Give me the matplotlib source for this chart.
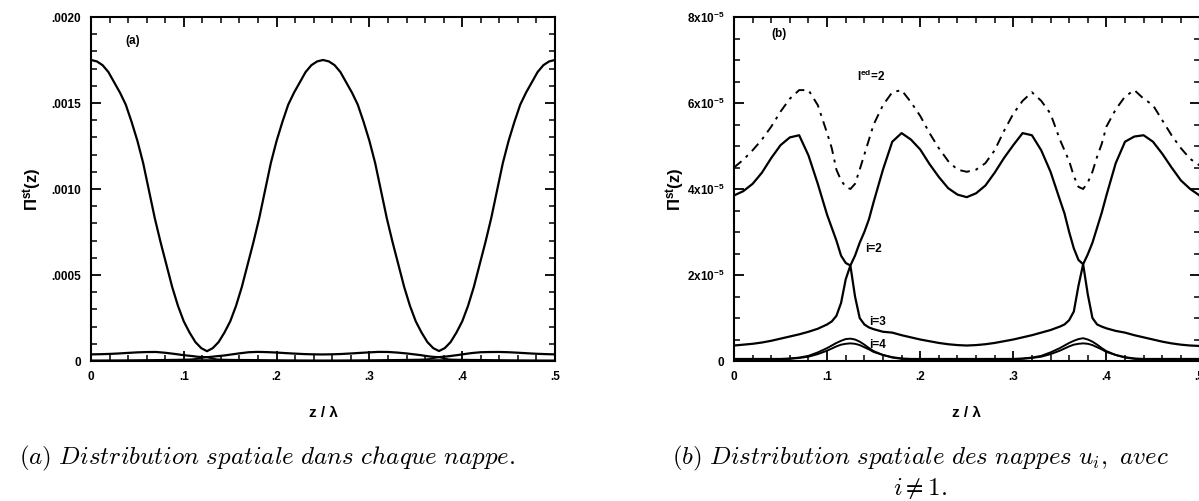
import matplotlib
matplotlib.use("Agg")
import matplotlib.pyplot as plt
from matplotlib.ticker import MultipleLocator

plt.rcParams['font.family'] = ['Liberation Sans', 'DejaVu Sans']
plt.rcParams['mathtext.fontset'] = 'custom'
plt.rcParams['mathtext.rm'] = 'Liberation Sans:bold'
plt.rcParams['mathtext.it'] = 'Liberation Sans:italic:bold'
plt.rcParams['mathtext.bf'] = 'Liberation Sans:bold'

# ---------------- data: panel (a), nappe i=1 ----------------
z_a = [i * 0.00625 for i in range(81)]
pi_1 = [0.00175, 0.001742, 0.00172, 0.00168, 0.00162, 0.00156, 0.00149, 0.00139, 0.00128, 0.00115,
        0.00099, 0.00083, 0.00069, 0.00056, 0.00043, 0.00032, 0.00023, 0.000165, 0.00011, 0.000075,
        0.000057,
        0.000075, 0.00011, 0.000165, 0.00023, 0.00032, 0.00043, 0.00056, 0.00069, 0.00083, 0.00099,
        0.00115, 0.00128, 0.00139, 0.00149, 0.00156, 0.00162, 0.00168, 0.00172, 0.001742, 0.00175,
        0.001742, 0.00172, 0.00168, 0.00162, 0.00156, 0.00149, 0.00139, 0.00128, 0.00115, 0.00099,
        0.00083, 0.00069, 0.00056, 0.00043, 0.00032, 0.00023, 0.000165, 0.00011, 0.000075, 0.000058,
        0.000075, 0.00011, 0.000165, 0.00023, 0.00032, 0.00043, 0.00056, 0.00069, 0.00083, 0.00099,
        0.00115, 0.00128, 0.00139, 0.00149, 0.00156, 0.00162, 0.00168, 0.00172, 0.001742, 0.00175]

# ---------------- data: panel (b), nappes i>=2 (units of 1e-5) ----------------
z_b = [0.0, 0.01, 0.02, 0.03, 0.04, 0.05, 0.06, 0.07, 0.08, 0.09, 0.10,
       0.105, 0.11, 0.115, 0.12, 0.125, 0.13, 0.135, 0.14, 0.145,
       0.15, 0.16, 0.17, 0.18, 0.19, 0.20, 0.21, 0.22, 0.23, 0.24, 0.25,
       0.26, 0.27, 0.28, 0.29, 0.30, 0.31, 0.32, 0.33, 0.34, 0.35,
       0.355, 0.36, 0.365, 0.37, 0.375, 0.38, 0.385, 0.39, 0.395,
       0.40, 0.41, 0.42, 0.43, 0.44, 0.45, 0.46, 0.47, 0.48, 0.49, 0.50]

pi_ed = [4.50, 4.68, 4.90, 5.15, 5.45, 5.80, 6.10, 6.30, 6.30, 5.95, 5.30,
         4.95, 4.45, 4.20, 4.05, 4.00, 4.12, 4.45, 4.80, 5.15,
         5.50, 5.95, 6.25, 6.30, 6.02, 5.70, 5.30, 4.95, 4.65, 4.45, 4.40,
         4.45, 4.60, 4.90, 5.35, 5.75, 6.05, 6.25, 6.05, 5.75, 5.15,
         4.90, 4.65, 4.30, 4.05, 4.00, 4.15, 4.40, 4.75, 5.05,
         5.45, 5.85, 6.15, 6.30, 6.10, 5.95, 5.60, 5.25, 4.95, 4.70, 4.55]

pi_2 = [3.85, 3.95, 4.12, 4.38, 4.72, 5.02, 5.20, 5.25, 4.78, 4.12, 3.40,
        3.10, 2.80, 2.45, 2.28, 2.22, 2.45, 2.75, 3.00, 3.30,
        3.70, 4.45, 5.10, 5.30, 5.15, 4.92, 4.58, 4.28, 4.02, 3.87, 3.81,
        3.90, 4.08, 4.38, 4.72, 5.02, 5.30, 5.25, 4.90, 4.40, 3.75,
        3.43, 3.00, 2.62, 2.35, 2.25, 2.48, 2.75, 3.10, 3.45,
        3.85, 4.60, 5.10, 5.22, 5.25, 5.10, 4.82, 4.50, 4.20, 4.00, 3.85]

pi_3 = [0.36, 0.38, 0.40, 0.43, 0.47, 0.52, 0.57, 0.62, 0.68, 0.75, 0.85,
        0.92, 1.05, 1.35, 1.90, 2.22, 1.50, 1.00, 0.85, 0.78,
        0.74, 0.68, 0.66, 0.60, 0.55, 0.50, 0.46, 0.42, 0.39, 0.37, 0.36,
        0.37, 0.39, 0.42, 0.46, 0.50, 0.55, 0.60, 0.66, 0.72, 0.80,
        0.85, 0.95, 1.15, 1.75, 2.25, 1.55, 1.00, 0.85, 0.80,
        0.76, 0.70, 0.66, 0.60, 0.55, 0.50, 0.45, 0.41, 0.38, 0.36, 0.35]

pi_4 = [0.05, 0.05, 0.05, 0.05, 0.05, 0.05, 0.06, 0.08, 0.12, 0.20, 0.30,
        0.36, 0.42, 0.47, 0.51, 0.52, 0.50, 0.45, 0.38, 0.30,
        0.23, 0.14, 0.09, 0.06, 0.05, 0.05, 0.05, 0.05, 0.05, 0.05, 0.05,
        0.05, 0.05, 0.05, 0.05, 0.05, 0.06, 0.08, 0.12, 0.20, 0.30,
        0.36, 0.42, 0.47, 0.51, 0.53, 0.50, 0.45, 0.38, 0.30,
        0.23, 0.14, 0.09, 0.06, 0.05, 0.05, 0.05, 0.05, 0.05, 0.05, 0.05]

pi_5 = [0.03, 0.03, 0.03, 0.03, 0.03, 0.04, 0.05, 0.07, 0.10, 0.16, 0.24,
        0.29, 0.34, 0.38, 0.40, 0.41, 0.40, 0.37, 0.32, 0.27,
        0.21, 0.14, 0.08, 0.05, 0.04, 0.03, 0.03, 0.03, 0.03, 0.03, 0.03,
        0.03, 0.03, 0.03, 0.03, 0.04, 0.05, 0.07, 0.10, 0.16, 0.24,
        0.29, 0.34, 0.38, 0.40, 0.41, 0.40, 0.37, 0.32, 0.27,
        0.21, 0.14, 0.08, 0.05, 0.04, 0.03, 0.03, 0.03, 0.03, 0.03, 0.03]

scale_b = 1e-5

xticks = [0, 0.1, 0.2, 0.3, 0.4, 0.5]
xticklabels = ['0', '.1', '.2', '.3', '.4', '.5']
yticks_a = [0, 0.0005, 0.0010, 0.0015, 0.0020]
yticklabels_a = ['0', '.0005', '.0010', '.0015', '.0020']
yticks_b = [0, 2e-5, 4e-5, 6e-5, 8e-5]
yticklabels_b = ['0', r'2x10$^{\mathbf{-5}}$', r'4x10$^{\mathbf{-5}}$', r'6x10$^{\mathbf{-5}}$', r'8x10$^{\mathbf{-5}}$']

W, H = 1199, 501
fig = plt.figure(figsize=(W / 100, H / 100), dpi=100)

ax1 = fig.add_axes([91 / W, (H - 361) / H, 464 / W, 344 / H])
ax2 = fig.add_axes([734 / W, (H - 361) / H, 465.5 / W, 344 / H])


def style_axes(ax, yminor):
    for sp in ax.spines.values():
        sp.set_linewidth(1.5)
    ax.set_xlim(0, 0.5)
    ax.xaxis.set_minor_locator(MultipleLocator(0.02))
    ax.yaxis.set_minor_locator(MultipleLocator(yminor))
    ax.tick_params(which='both', direction='in', top=True, right=True)
    ax.tick_params(which='major', length=7, width=1.3, labelsize=8.5, pad=7)
    ax.tick_params(which='minor', length=4, width=1.1)
    ax.set_xticks(xticks)
    ax.set_xticklabels(xticklabels, fontweight='bold')
    for lab in ax.get_yticklabels():
        lab.set_fontweight('bold')


# ---- panel (a)
lw = 1.6
ax1.plot(z_a, pi_1, color='black', lw=lw)
ax1.plot(z_b, [v * scale_b for v in pi_2], color='black', lw=lw)
ax1.plot(z_b, [v * scale_b for v in pi_3], color='black', lw=1.3)
ax1.plot(z_b, [v * scale_b for v in pi_4], color='black', lw=1.3)
ax1.set_ylim(0, 0.002)
ax1.set_yticks(yticks_a)
ax1.set_yticklabels(yticklabels_a, fontweight='bold')
style_axes(ax1, 0.0001)
ax1.text(0.045, 0.00186, '(a)', ha='center', va='center', fontsize=8.5, fontweight='bold')
ax1.set_xlabel('z / λ', fontsize=11, fontweight='bold')
ax1.xaxis.set_label_coords(0.5, -0.151)
ax1.xaxis.label.set_va('center')
ax1.set_ylabel(r'Π$^{\mathbf{st}}$(z)', fontsize=12, fontweight='bold')
ax1.yaxis.set_label_coords(-0.125, 0.5)
ax1.yaxis.label.set_va('center')

# ---- panel (b)
ax2.plot(z_b, [v * scale_b for v in pi_ed], color='black', lw=1.4, ls=(0, (5, 3, 1.5, 3)))
ax2.plot(z_b, [v * scale_b for v in pi_2], color='black', lw=lw)
ax2.plot(z_b, [v * scale_b for v in pi_3], color='black', lw=lw)
ax2.plot(z_b, [v * scale_b for v in pi_4], color='black', lw=1.4)
ax2.plot(z_b, [v * scale_b for v in pi_5], color='black', lw=1.4)
ax2.set_ylim(0, 8e-5)
ax2.set_yticks(yticks_b)
ax2.set_yticklabels(yticklabels_b, fontweight='bold')
style_axes(ax2, 0.5e-5)
ax2.text(0.0483, 7.6e-5, '(b)', ha='center', va='center', fontsize=8.5, fontweight='bold')
ax2.text(0.147, 6.63e-5, r'I$^{\mathbf{ed}}$=2', ha='center', va='center', fontsize=8.5, fontweight='bold')
ax2.text(0.141, 2.6e-5, 'i=2', ha='left', va='center', fontsize=8.5, fontweight='bold')
ax2.text(0.145, 0.91e-5, 'i=3', ha='left', va='center', fontsize=8.5, fontweight='bold')
ax2.text(0.145, 0.365e-5, 'i=4', ha='left', va='center', fontsize=8.5, fontweight='bold')
ax2.set_xlabel('z / λ', fontsize=11, fontweight='bold')
ax2.xaxis.set_label_coords(0.5, -0.151)
ax2.xaxis.label.set_va('center')
ax2.set_ylabel(r'Π$^{\mathbf{st}}$(z)', fontsize=12, fontweight='bold')
ax2.yaxis.set_label_coords(-0.125, 0.5)
ax2.yaxis.label.set_va('center')

# ---- captions
cap_kw = dict(fontsize=18, math_fontfamily='cm', va='center', ha='center')
fig.text(267 / W, 1 - 458 / H,
         r'$\mathit{(a)\ Distribution\ spatiale\ dans\ chaque\ nappe.}$', **cap_kw)
fig.text(920 / W, 1 - 458 / H,
         r'$\mathit{(b)\ Distribution\ spatiale\ des\ nappes\ u_i,\ avec}$', **cap_kw)
fig.text(920 / W, 1 - 489 / H, r'$i \neq 1.$', **cap_kw)

fig.savefig('out.png', dpi=100)
